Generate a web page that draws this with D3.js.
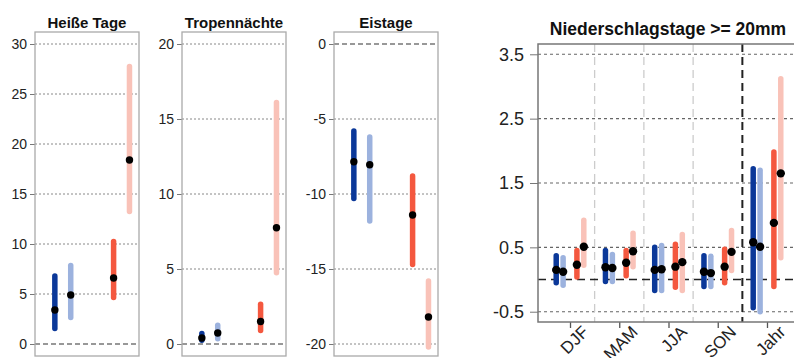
<!DOCTYPE html>
<html>
<head>
<meta charset="utf-8">
<script src="https://cdn.jsdelivr.net/npm/d3@7"></script>
<style>
  body { margin: 0; background: #fff; }
  svg { display: block; font-family: "Liberation Sans", Arial, Helvetica, sans-serif; }
</style>
</head>
<body>
<svg id="chart" width="794" height="358"></svg>
<script>
// Reihenfolge der Serien: dunkelblau, hellblau, rot, hellrot
const farben = ["#0b3899", "#9cb2de", "#f4583f", "#f9c2b8"];

// --- kleine Panels (Tage) ---
const panelTitel = ["Heiße Tage", "Tropennächte", "Eistage"];
const panelTicks = [[0, 5, 10, 15, 20, 25, 30], [0, 5, 10, 15, 20], [-20, -15, -10, -5, 0]];
const panelBereich = [[-1.2, 31.2], [-0.8, 20.8], [-20.8, 0.8]];
const panelPos = [1, 2, 4.7, 5.7];

const heisseUnten = [1.55, 2.65, 4.65, 13.25];
const heisseOben = [6.8, 7.85, 10.25, 27.75];
const heisseMittel = [3.4, 4.9, 6.6, 18.4];

const tropenUnten = [0.25, 0.35, 0.9, 4.75];
const tropenOben = [0.7, 1.25, 2.65, 16.1];
const tropenMittel = [0.4, 0.73, 1.5, 7.75];

const eisUnten = [-10.3, -11.8, -14.7, -20.2];
const eisOben = [-5.8, -6.2, -8.8, -15.8];
const eisMittel = [-7.85, -8.05, -11.4, -18.2];

// --- Niederschlagstage >= 20mm ---
const jahreszeiten = ["DJF", "MAM", "JJA", "SON", "Jahr"];
const nsTicks = [-0.5, 0.5, 1.5, 2.5, 3.5];
const nsVersatz = [-0.28, -0.14, 0.14, 0.28];

const dbUnten = [-0.05, -0.03, -0.17, -0.11, -0.44];
const dbOben = [0.37, 0.45, 0.5, 0.37, 1.72];
const dbMittel = [0.15, 0.19, 0.15, 0.12, 0.58];
const hbUnten = [-0.09, -0.03, -0.17, -0.11, -0.5];
const hbOben = [0.34, 0.39, 0.53, 0.36, 1.7];
const hbMittel = [0.12, 0.18, 0.16, 0.10, 0.51];
const rtUnten = [0.04, 0.06, -0.12, -0.05, -0.11];
const rtOben = [0.45, 0.45, 0.55, 0.47, 1.98];
const rtMittel = [0.23, 0.26, 0.2, 0.2, 0.88];
const hrUnten = [0.22, 0.2, -0.17, 0.14, 0.34];
const hrOben = [0.92, 0.72, 0.7, 0.76, 3.12];
const hrMittel = [0.51, 0.44, 0.27, 0.43, 1.65];

const svg = d3.select("#chart");

// Minuszeichen wie im Original (Bindestrich)
const bindestrich = f => d => f(d).replace("\u2212", "-");

// Panel-Daten zusammenbauen
const panels = [
  { unten: heisseUnten, oben: heisseOben, mittel: heisseMittel },
  { unten: tropenUnten, oben: tropenOben, mittel: tropenMittel },
  { unten: eisUnten, oben: eisOben, mittel: eisMittel }
];
const panelLinks = [35, 182, 334];
const panelBreite = 104;
const oben = 32, unten = 356;

panels.forEach((p, k) => {
  const x0 = panelLinks[k];
  const x = d3.scaleLinear().domain([-0.25, 6.3]).range([x0, x0 + panelBreite]);
  const y = d3.scaleLinear().domain(panelBereich[k]).range([unten, oben]);
  const g = svg.append("g");

  // Gitterlinien
  g.selectAll("line.grid")
    .data(panelTicks[k])
    .enter().append("line")
    .attr("x1", x0).attr("x2", x0 + panelBreite)
    .attr("y1", d => y(d)).attr("y2", d => y(d))
    .attr("stroke", d => d === 0 ? "#333" : "#888")
    .attr("stroke-width", d => d === 0 ? 1.2 : 1)
    .attr("stroke-dasharray", d => d === 0 ? "5,3" : "2,2");

  // Achse links
  const achse = g.append("g")
    .attr("transform", `translate(${x0},0)`)
    .call(d3.axisLeft(y).tickValues(panelTicks[k]).tickFormat(bindestrich(d3.format("d")))
      .tickSize(5).tickPadding(3));
  achse.select(".domain").remove();
  achse.selectAll(".tick line").attr("stroke", "#777");
  achse.selectAll(".tick text")
    .attr("fill", "#222")
    .style("font-size", "14px")
    .style("font-family", "inherit");

  // Rahmen
  g.append("rect")
    .attr("x", x0).attr("y", oben)
    .attr("width", panelBreite).attr("height", unten - oben)
    .attr("fill", "none").attr("stroke", "#aaa").attr("stroke-width", 1.3);

  // Titel
  g.append("text")
    .attr("x", x0 + panelBreite / 2).attr("y", 28)
    .attr("text-anchor", "middle")
    .style("font-size", "15px").style("font-weight", "bold")
    .attr("fill", "#111")
    .text(panelTitel[k]);

  // Balken
  g.selectAll("line.bar")
    .data(d3.range(4))
    .enter().append("line")
    .attr("x1", i => x(panelPos[i])).attr("x2", i => x(panelPos[i]))
    .attr("y1", i => y(p.unten[i])).attr("y2", i => y(p.oben[i]))
    .attr("stroke", i => farben[i])
    .attr("stroke-width", 5.5)
    .attr("stroke-linecap", "round");

  // Punkte
  g.selectAll("circle.pt")
    .data(d3.range(4))
    .enter().append("circle")
    .attr("cx", i => x(panelPos[i]))
    .attr("cy", i => y(p.mittel[i]))
    .attr("r", 3.7)
    .attr("fill", "#000");
});

// --- rechtes Panel ---
const ns = [
  { unten: dbUnten, oben: dbOben, mittel: dbMittel },
  { unten: hbUnten, oben: hbOben, mittel: hbMittel },
  { unten: rtUnten, oben: rtOben, mittel: rtMittel },
  { unten: hrUnten, oben: hrOben, mittel: hrMittel }
];

const rx = d3.scaleLinear().domain([0.35, 5.65]).range([538, 799]);
const ry = d3.scaleLinear().domain([-0.66, 3.66]).range([322, 44]);
const rg = svg.append("g");

// horizontale Gitterlinien
rg.selectAll("line.hgrid")
  .data(nsTicks)
  .enter().append("line")
  .attr("x1", 538).attr("x2", 799)
  .attr("y1", d => ry(d)).attr("y2", d => ry(d))
  .attr("stroke", "#666").attr("stroke-width", 1.1)
  .attr("stroke-dasharray", "3,3");

// vertikale Trenner
rg.selectAll("line.vgrid")
  .data([1.5, 2.5, 3.5, 4.5])
  .enter().append("line")
  .attr("x1", d => rx(d)).attr("x2", d => rx(d))
  .attr("y1", 44).attr("y2", 322)
  .attr("stroke", d => d === 4.5 ? "#222" : "#ccc")
  .attr("stroke-width", d => d === 4.5 ? 2 : 1.3)
  .attr("stroke-dasharray", "8,5");

// Nulllinie
rg.append("line")
  .attr("x1", 538).attr("x2", 799)
  .attr("y1", ry(0)).attr("y2", ry(0))
  .attr("stroke", "#222").attr("stroke-width", 1.6)
  .attr("stroke-dasharray", "8,5");

// y-Achse
const ryAchse = rg.append("g")
  .attr("transform", "translate(538,0)")
  .call(d3.axisLeft(ry).tickValues(nsTicks).tickFormat(bindestrich(d3.format(".1f")))
    .tickSize(8).tickPadding(6));
ryAchse.select(".domain").remove();
ryAchse.selectAll(".tick line").attr("stroke", "#777");
ryAchse.selectAll(".tick text")
  .attr("fill", "#222")
  .style("font-size", "18px")
  .style("font-family", "inherit");

// x-Achse
const rxAchse = rg.append("g")
  .attr("transform", "translate(0,322)")
  .call(d3.axisBottom(rx).tickValues([1, 2, 3, 4, 5]).tickFormat(i => jahreszeiten[i - 1]).tickSize(6));
rxAchse.select(".domain").remove();
rxAchse.selectAll(".tick line").attr("stroke", "#555").attr("stroke-width", 1.3);
rxAchse.selectAll(".tick text")
  .attr("fill", "#222")
  .style("font-size", "17px")
  .style("font-family", "inherit")
  .attr("text-anchor", "end")
  .attr("dy", null)
  .attr("y", 0)
  .attr("transform", "translate(19,11) rotate(-45)");

// Rahmen (links, oben, unten)
rg.append("path")
  .attr("d", `M799,44H538V322H799`)
  .attr("fill", "none").attr("stroke", "#777").attr("stroke-width", 1.5);

// Titel
rg.append("text")
  .attr("x", 668).attr("y", 35)
  .attr("text-anchor", "middle")
  .style("font-size", "17.5px").style("font-weight", "bold")
  .attr("fill", "#111")
  .text("Niederschlagstage >= 20mm");

// Balken
ns.forEach((s, i) => {
  rg.selectAll(`line.bar${i}`)
    .data(jahreszeiten.map((_, j) => j))
    .enter().append("line")
    .attr("x1", j => rx(j + 1 + nsVersatz[i])).attr("x2", j => rx(j + 1 + nsVersatz[i]))
    .attr("y1", j => ry(s.unten[j])).attr("y2", j => ry(s.oben[j]))
    .attr("stroke", farben[i])
    .attr("stroke-width", 5.5)
    .attr("stroke-linecap", "round");
});

// Punkte
ns.forEach((s, i) => {
  rg.selectAll(`circle.pt${i}`)
    .data(jahreszeiten.map((_, j) => j))
    .enter().append("circle")
    .attr("cx", j => rx(j + 1 + nsVersatz[i]))
    .attr("cy", j => ry(s.mittel[j]))
    .attr("r", 4.2)
    .attr("fill", "#000");
});
</script>
</body>
</html>
